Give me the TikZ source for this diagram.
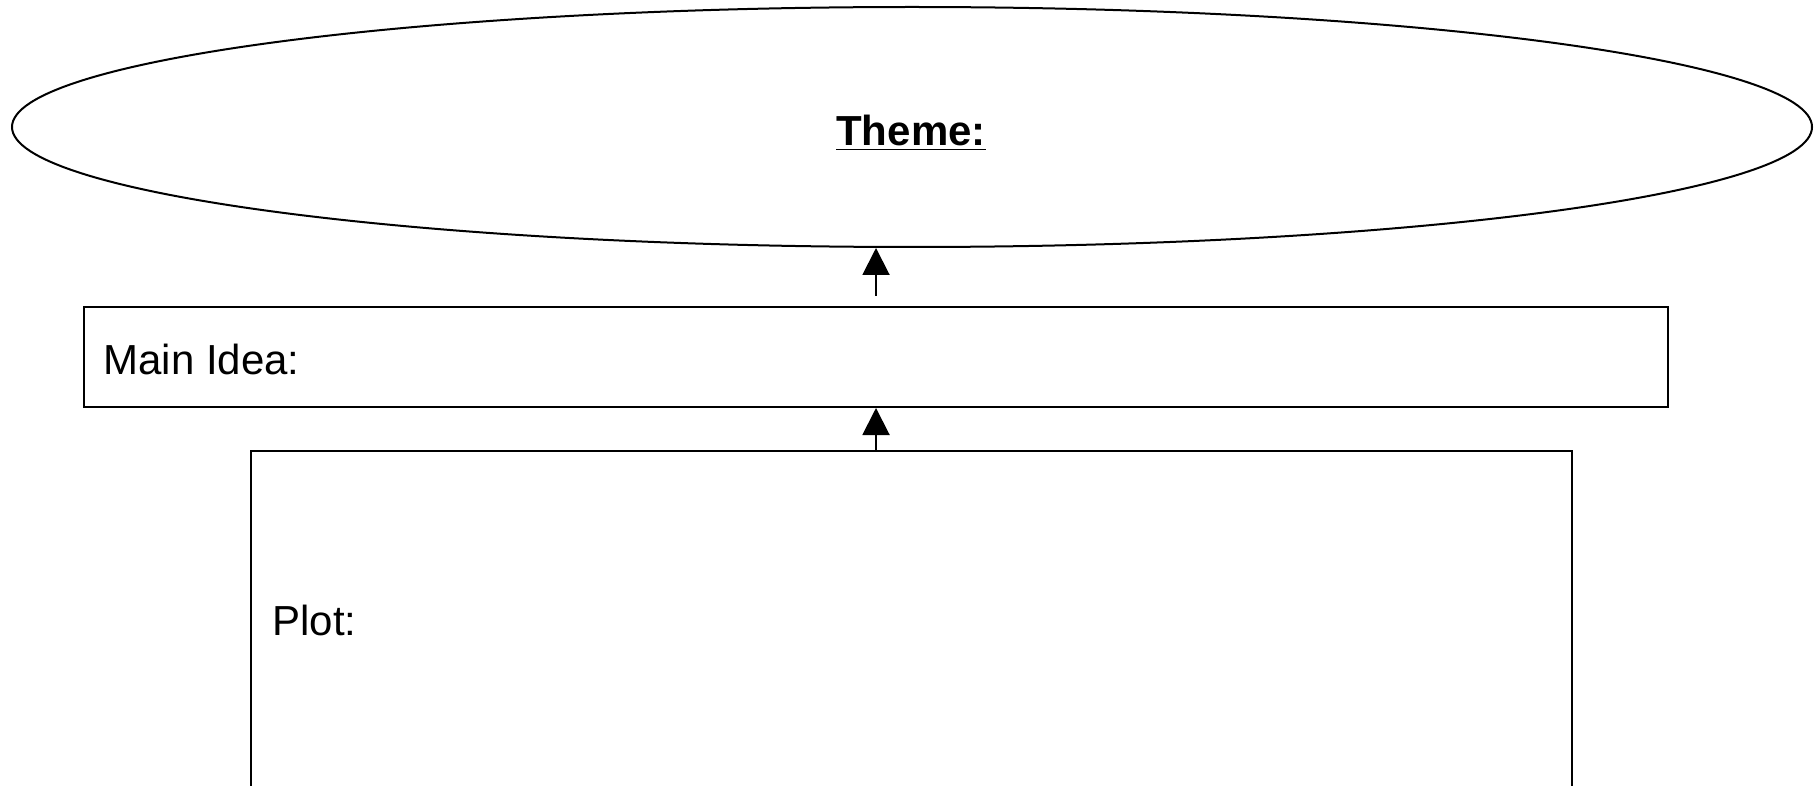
\documentclass[tikz,border=0pt]{standalone}
\usepackage{fontspec}
\setmainfont{Liberation Sans}
\usetikzlibrary{arrows.meta,shapes.geometric}
\begin{document}
\begin{tikzpicture}[x=0.5pt,y=-0.5pt,
  shapeline/.style={draw=black,line width=1pt,inner sep=0pt},
  lbl/.style={font=\fontsize{21}{25}\selectfont,inner sep=0pt},
  conn/.style={line width=1pt,-{Triangle[width=13.5pt,length=13.5pt]}}]
\useasboundingbox (0,0) rectangle (1820,786);
\node[shapeline,ellipse,minimum width=900pt,minimum height=120pt] (theme) at (912,127) {};
\node[shapeline,rectangle,minimum width=792pt,minimum height=50pt] (main) at (876,357) {};
\node[shapeline,rectangle,minimum width=660.5pt,minimum height=169pt] (plot) at (911.5,620) {};
\node[lbl,anchor=base] (themetxt) at (911,146) {\bfseries\underline{Theme:}};
\node[lbl,anchor=base west] (maintxt) at (103,374) {Main Idea:};
\node[lbl,anchor=base west] (plottxt) at (272,635) {Plot:};
\coordinate (a1) at (876,296);
\coordinate (a2) at (876,451);
\draw[conn] (a1) -- (a1 |- theme.south);
\draw[conn] (a2) -- (a2 |- main.south);
\end{tikzpicture}
\end{document}
